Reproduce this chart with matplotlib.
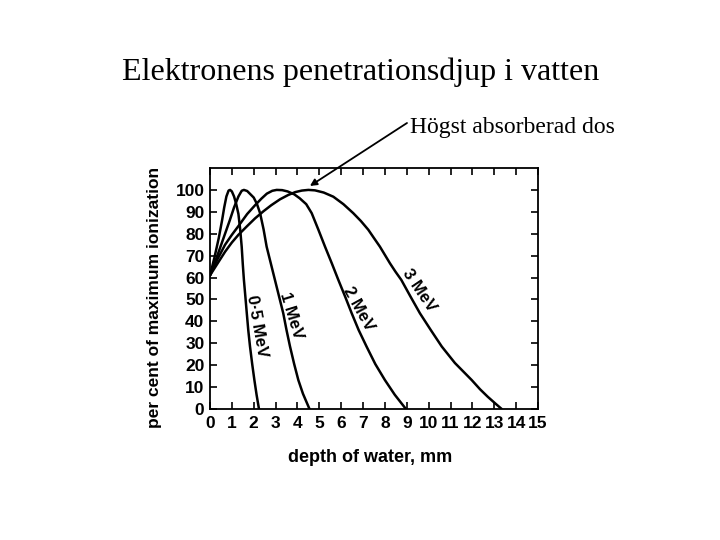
import matplotlib
matplotlib.use("Agg")
import matplotlib.pyplot as plt

# ---- data ----
x_05 = [0, 0.2, 0.4, 0.55, 0.65, 0.75, 0.85, 0.92, 1.0, 1.1, 1.2, 1.3, 1.38, 1.45, 1.5, 1.55,
        1.62, 1.68, 1.75, 1.83, 1.93, 2.03, 2.13, 2.24]
y_05 = [61, 69, 78, 86, 92, 97, 99.7, 100, 99.3, 97, 93.5, 89, 82, 74, 66, 59,
        51, 44, 36, 28.5, 20.5, 13.2, 6.5, 0]

x_1 = [0, 0.3, 0.6, 0.9, 1.1, 1.3, 1.45, 1.55, 1.7, 1.85, 2.0, 2.15, 2.29, 2.45, 2.59, 2.78,
       2.97, 3.16, 3.35, 3.5, 3.66, 3.85, 4.04, 4.25, 4.55]
y_1 = [61, 69, 77.5, 86, 92, 97, 99.6, 100, 99.5, 98, 96.5, 93.5, 89.4, 82, 74.1, 66.5,
       58.9, 51.3, 43.7, 36, 28.5, 20.5, 13.2, 7, 0]

x_2 = [0, 0.35, 0.69, 1.0, 1.3, 1.7, 2.06, 2.35, 2.6, 2.85, 3.05, 3.3, 3.55, 3.85, 4.1, 4.4,
       4.65, 4.95, 5.26, 5.57, 5.87, 6.18, 6.48, 6.8, 7.16, 7.56, 8.0, 8.45, 8.96]
y_2 = [61, 68.5, 75, 79.5, 83.5, 89, 93, 96, 98.3, 99.6, 100, 99.9, 99.3, 98, 96.2, 93.5,
       89.4, 82, 74.1, 66.5, 58.9, 51.3, 43.7, 36, 28.5, 20.5, 13.2, 6.5, 0]

x_3 = [0, 0.35, 0.69, 1.0, 1.3, 1.7, 2.06, 2.45, 2.8, 3.2, 3.58, 3.9, 4.2, 4.5, 4.8, 5.2,
       5.64, 6.1, 6.55, 6.9, 7.24, 7.5, 7.77, 8.0, 8.23, 8.48, 8.75, 9.17, 9.6, 10.1, 10.6,
       11.2, 11.97, 12.35, 12.7, 13.05, 13.34]
y_3 = [61, 66.5, 71.8, 76, 79.5, 83.5, 87, 90.3, 93, 95.7, 97.7, 99, 99.7, 100, 99.8, 98.8,
       96.9, 93.5, 89.4, 85.8, 81.8, 78, 74.1, 70.3, 66.5, 62.7, 58.9, 51.3, 43.7, 36, 28.5,
       21, 13.2, 9, 5.6, 2.5, 0]

curve_labels = ["0·5 MeV", "1 MeV", "2 MeV", "3 MeV"]
label_pos_x = [2.14, 3.70, 6.80, 9.55]
label_pos_y = [37.6, 42.6, 45.5, 54.0]
label_rot = [-80, -73, -61, -56]

x_ticks = list(range(0, 16))
y_ticks = list(range(0, 101, 10))

title = "Elektronens penetrationsdjup i vatten"
annotation = "Högst absorberad dos"
peak_point = (4.57, 101.8)

# ---- figure ----
fig = plt.figure(figsize=(7.2, 5.4), dpi=100)
ax = fig.add_axes([210/720, 1-409/540, 328/720, 241/540])

sans = "Liberation Sans"
serif = "Liberation Serif"

for xs, ys in [(x_05, y_05), (x_1, y_1), (x_2, y_2), (x_3, y_3)]:
    ax.plot(xs, ys, color="black", lw=1.8, solid_joinstyle="round", solid_capstyle="round")

ax.set_xlim(0, 15)
ax.set_ylim(0, 110)
ax.set_xticks(x_ticks)
ax.set_yticks(y_ticks)
ax.set_xticklabels([str(t) for t in x_ticks], fontfamily=sans, fontsize=12.5, fontweight="bold")
ax.set_yticklabels([str(t) for t in y_ticks], fontfamily=sans, fontsize=12.5, fontweight="bold")
ax.tick_params(direction="in", length=5, width=1.2, top=True, right=True, color="black")
ax.tick_params(axis="x", pad=5)
ax.tick_params(axis="y", pad=4)
for s in ax.spines.values():
    s.set_linewidth(1.3)

for lab, lx, ly, rot in zip(curve_labels, label_pos_x, label_pos_y, label_rot):
    ax.text(lx, ly, lab, rotation=rot, ha="center", va="center", fontfamily=sans,
            fontsize=12, fontweight="bold", rotation_mode="anchor")

fig.text(370/720, 1-458/540, "depth of water, mm", ha="center", va="center",
         fontfamily=sans, fontsize=13, fontweight="bold")
fig.text(155/720, 1-297/540, "per cent of maximum ionization", ha="center", va="center",
         rotation=90, fontfamily=sans, fontsize=12.5, fontweight="bold")

fig.text(361/720, 1-80/540, title, ha="center", va="baseline", fontfamily=serif, fontsize=23)
fig.text(410/720, 1-133/540, annotation, ha="left", va="baseline", fontfamily=serif, fontsize=17)

ax.annotate("", xy=peak_point, xycoords="data", xytext=(407/720, 1-123/540),
            textcoords="figure fraction",
            arrowprops=dict(arrowstyle="-|>", lw=1.3, color="black", mutation_scale=10,
                            shrinkA=0, shrinkB=0))

fig.savefig("out.png", dpi=100)
